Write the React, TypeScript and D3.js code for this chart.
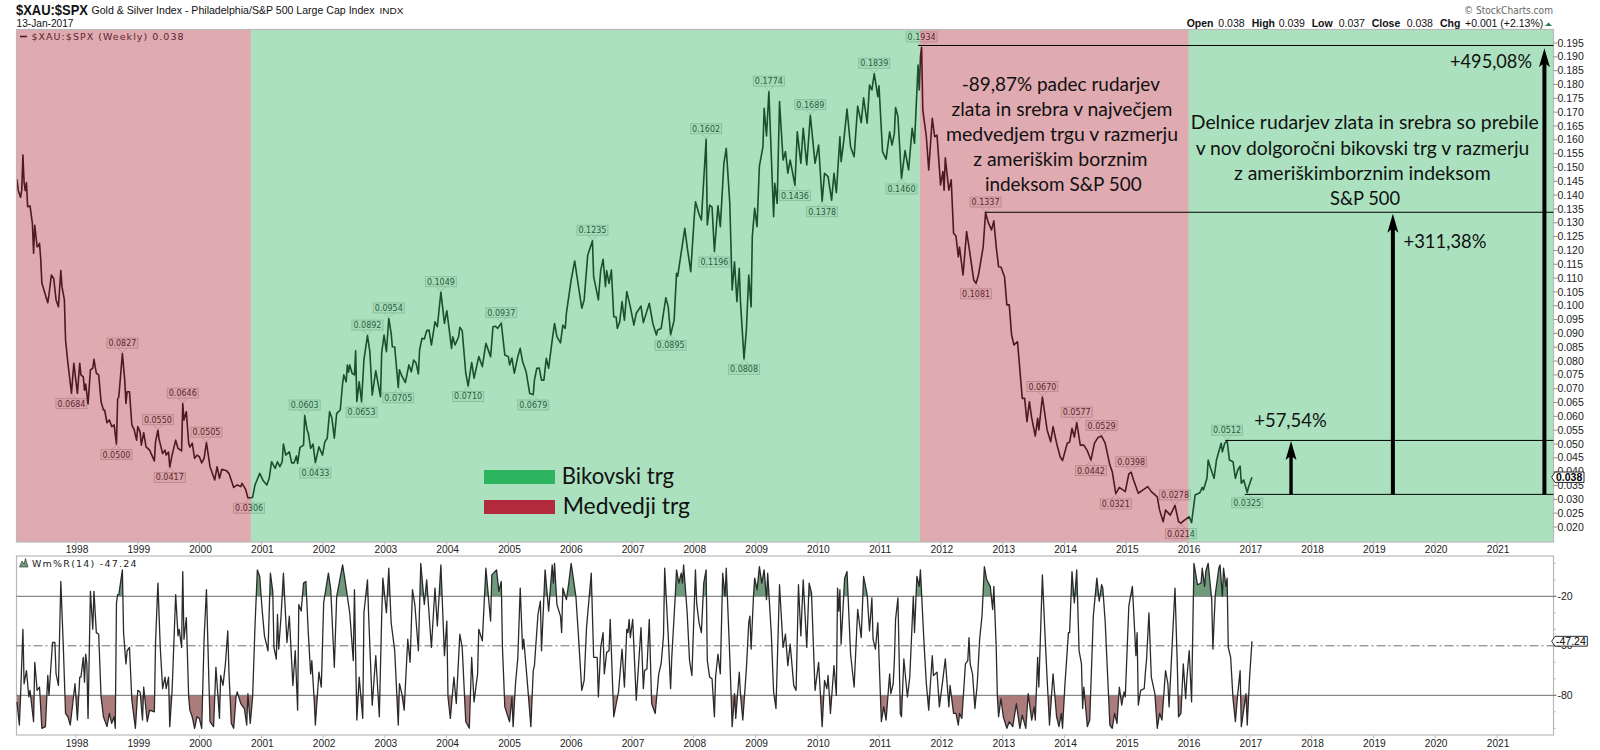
import React from "react";
import * as d3 from "d3";

type P = [number, number];

// Ratio $XAU:$SPX, [weeks since first bar, value]
const bearEra1: P[] = [[0,.1457],[1,.1418],[3,.1392],[4,.1418],[5,.1545],[6,.1444],[7,.1416],[8,.1445],[9,.1358],[11,.1361],[13,.1298],[14,.1190],[15,.1291],[17,.1213],[18,.1216],[19,.1226],[20,.1171],[21,.1082],[24,.1039],[26,.1011],[27,.1039],[29,.1111],[31,.1099],[33,.1021],[35,.0996],[37,.1127],[38,.1069],[40,.1021],[41,.0876],[43,.0792],[46,.0684],[48,.0792],[51,.0683],[53,.0792],[54,.0750],[56,.0743],[57,.0695],[58,.0717],[60,.0645],[62,.0768],[64,.0774],[65,.0806],[67,.0756],[69,.0750],[71,.0653],[73,.0623],[74,.0623],[76,.0577],[78,.0587],[80,.0563],[82,.0569],[84,.0500],[85,.0662],[86,.0671],[89,.0827],[91,.0731],[92,.0647],[93,.0689],[95,.0689],[97,.0569],[99,.0551],[101,.0514],[102,.0563],[104,.0543],[105,.0496],[107,.0541],[109,.0490],[112,.0478],[116,.0439],[117,.0508],[119,.0550],[120,.0517],[123,.0466],[125,.0478],[126,.0460],[128,.0471],[129,.0417],[131,.0460],[134,.0514],[136,.0484],[139,.0475],[140,.0646],[141,.0587],[143,.0617],[145,.0503],[146,.0489],[148,.0503],[150,.0448],[152,.0460],[154,.0454],[156,.0432],[158,.0448],[160,.0505],[163,.0418],[167,.0370],[169,.0418],[171,.0376],[173,.0409],[177,.0403],[179,.0394],[183,.0343],[186,.0352],[189,.0346],[190,.0358],[193,.0337],[195,.0306],[197,.0306]];
const bullEra1: P[] = [[199,.0307],[201,.0352],[205,.0394],[208,.0367],[211,.0352],[213,.0376],[215,.0436],[218,.0412],[220,.0436],[222,.0418],[224,.0436],[225,.0500],[227,.0460],[230,.0472],[232,.0432],[234,.0432],[236,.0457],[237,.0430],[239,.0488],[242,.0496],[243,.0603],[245,.0551],[246,.0539],[248,.0484],[250,.0500],[252,.0433],[255,.0490],[258,.0460],[260,.0508],[262,.0521],[264,.0617],[266,.0593],[268,.0521],[270,.0611],[273,.0623],[275,.0719],[276,.0750],[278,.0725],[279,.0786],[280,.0760],[281,.0786],[283,.0756],[285,.0750],[286,.0837],[287,.0653],[289,.0725],[291,.0653],[293,.0804],[296,.0892],[298,.0834],[300,.0677],[303,.0765],[307,.0671],[308,.0830],[310,.0894],[312,.0834],[314,.0954],[316,.0900],[317,.0852],[319,.0851],[322,.0705],[323,.0768],[325,.0746],[328,.0722],[331,.0786],[333,.0761],[335,.0804],[337,.0793],[339,.0753],[340,.0840],[342,.0882],[344,.0880],[346,.0910],[348,.0912],[350,.0858],[353,.0942],[355,.0924],[358,.1049],[361,.0936],[363,.0982],[367,.0846],[368,.0888],[370,.0858],[373,.0888],[374,.0922],[376,.0910],[379,.0756],[381,.0710],[384,.0795],[386,.0738],[390,.0816],[393,.0780],[396,.0864],[400,.0816],[402,.0924],[404,.0926],[406,.0918],[409,.0937],[412,.0822],[415,.0816],[416,.0786],[418,.0811],[420,.0756],[423,.0816],[425,.0846],[427,.0798],[430,.0761],[433,.0683],[436,.0679],[437,.0731],[439,.0774],[441,.0775],[443,.0731],[445,.0731],[447,.0810],[449,.0774],[452,.0876],[454,.0936],[456,.0888],[459,.0866],[461,.0930],[463,.0918],[464,.0973],[468,.1093],[471,.1162],[474,.1075],[477,.0991],[479,.1021],[482,.1183],[486,.1235],[487,.1105],[491,.1021],[493,.1129],[495,.1168],[497,.1069],[498,.1127],[500,.1081],[502,.1129],[504,.0960],[506,.0959],[507,.0918],[509,.0941],[511,.1015],[513,.0948],[515,.1051],[518,.0996],[521,.0930],[523,.0973],[527,.0999],[529,.0939],[534,.1009],[537,.0936],[540,.0894],[541,.0912],[544,.0918],[548,.1029],[550,.0996],[552,.0895],[555,.0948],[557,.1117],[558,.1107],[564,.1280],[566,.1213],[569,.1123],[572,.1322],[573,.1376],[576,.1332],[578,.1310],[582,.1602],[583,.1292],[585,.1364],[587,.1357],[589,.1196],[592,.1361],[594,.1286],[597,.1515],[599,.1569],[602,.1370],[604,.1057],[606,.1159],[608,.1015],[610,.1135],[611,.1015],[614,.0808],[616,.0912],[618,.1111],[620,.0996],[621,.1250],[623,.1352],[625,.1286],[627,.1505],[630,.1575],[631,.1714],[633,.1614],[635,.1774],[639,.1322],[640,.1443],[642,.1370],[644,.1738],[647,.1527],[649,.1557],[651,.1479],[653,.1527],[657,.1436],[659,.1629],[662,.1515],[664,.1642],[667,.1509],[670,.1689],[674,.1515],[677,.1581],[680,.1378],[682,.1479],[685,.1467],[688,.1382],[690,.1479],[692,.1409],[695,.1611],[696,.1521],[698,.1587],[701,.1711],[704,.1575],[707,.1539],[710,.1722],[713,.1662],[715,.1752],[718,.1660],[720,.1798],[722,.1780],[724,.1839],[727,.1756],[728,.1795],[731,.1557],[734,.1530],[737,.1629],[739,.1581],[741,.1623],[742,.1717],[744,.1684],[747,.1460],[750,.1561],[753,.1491],[756,.1642],[758,.1587],[761,.1870],[762,.1780],[763,.1900]];
const bearEra2: P[] = [[764,.1934],[765,.1708],[768,.1611],[770,.1491],[773,.1678],[775,.1611],[777,.1617],[780,.1437],[782,.1485],[783,.1418],[784,.1535],[787,.1418],[789,.1455],[791,.1262],[793,.1252],[795,.1177],[796,.1212],[799,.1111],[802,.1268],[804,.1213],[808,.1093],[810,.1081],[812,.1111],[816,.1213],[818,.1337],[820,.1304],[823,.1274],[825,.1307],[827,.1213],[829,.1141],[831,.1140],[834,.1105],[836,.1003],[838,.1003],[840,.0894],[842,.0858],[845,.0870],[849,.0665],[851,.0665],[853,.0581],[855,.0653],[857,.0594],[860,.0529],[862,.0593],[863,.0551],[866,.0670],[870,.0551],[873,.0508],[875,.0563],[878,.0503],[881,.0454],[883,.0440],[887,.0503],[889,.0507],[891,.0557],[893,.0525],[895,.0577],[898,.0496],[901,.0496],[904,.0475],[907,.0442],[910,.0503],[913,.0524],[916,.0529],[919,.0503],[923,.0424],[925,.0400],[928,.0321],[931,.0343],[936,.0328],[939,.0392],[941,.0398],[943,.0370],[947,.0322],[951,.0334],[955,.0346],[958,.0328],[963,.0309],[965,.0261],[968,.0219],[970,.0261],[974,.0243],[978,.0278],[981,.0219],[983,.0214],[986,.0225],[990,.0237]];
const bullEra2: P[] = [[992,.0216],[993,.0249],[995,.0316],[999,.0324],[1001,.0343],[1002,.0334],[1005,.0376],[1006,.0442],[1008,.0413],[1011,.0376],[1013,.0442],[1017,.0503],[1018,.0472],[1020,.0503],[1022,.0512],[1024,.0442],[1027,.0436],[1029,.0376],[1031,.0406],[1033,.0420],[1034,.0358],[1036,.0370],[1039,.0325],[1040,.0343],[1043,.0380]];

// Williams %R, [week, value]
const wmrPart1: P[] = [[0,-84],[2,-98],[3,-81],[5,-40],[6,-73],[8,-65],[10,-81],[11,-77],[14,-96],[15,-60],[17,-77],[19,-75],[21,-100],[24,-99],[26,-68],[27,-80],[30,-48],[32,-48],[33,-67],[35,-74],[37,-11],[39,-48],[41,-91],[43,-93],[45,-98],[49,-73],[51,-95],[53,-69],[54,-69],[56,-57],[57,-72],[58,-55],[59,-61],[60,-94],[62,-17],[64,-40],[65,-17],[67,-42],[69,-43],[71,-81],[73,-93],[76,-99],[78,-91],[80,-97],[82,-93],[83,-100],[84,-24],[85,-19],[86,-19],[89,-4],[90,-42],[92,-61],[93,-53],[95,-51],[97,-83],[100,-100],[102,-77],[104,-78],[106,-95],[107,-75],[110,-96],[112,-89],[116,-90],[117,-48],[119,-12],[121,-51],[123,-76],[125,-69],[126,-76],[128,-69],[129,-99],[131,-77],[134,-19],[136,-44],[137,-40],[139,-51],[140,-5],[141,-46],[143,-33],[145,-81],[146,-89],[148,-93],[150,-100],[152,-93],[154,-94],[156,-100],[158,-46],[160,-16],[163,-96],[166,-99],[168,-63],[171,-94],[172,-68],[174,-74],[176,-61],[178,-41],[179,-66],[181,-97],[183,-100],[185,-81],[186,-78],[189,-85],[192,-88],[194,-98],[195,-79],[197,-97],[199,-81],[201,-38],[203,-4],[205,-8],[207,-28],[209,-44],[212,-53],[214,-6],[216,-17],[217,-51],[219,-58],[220,-31],[221,-52],[223,-32],[225,-6],[228,-48],[230,-32],[233,-74],[235,-53],[237,-89],[238,-25],[240,-29],[242,-12],[244,-11],[246,-42],[248,-67],[249,-59],[251,-83],[252,-98],[255,-66],[257,-75],[259,-24],[263,-6],[265,-16],[268,-63],[270,-20],[275,-1],[277,-10],[281,-30],[284,-59],[285,-16],[287,-95],[289,-69],[292,-94],[293,-30],[296,-10],[297,-32],[300,-86],[303,-56],[306,-93],[308,-32],[309,-9],[312,-30],[314,-3],[316,-36],[319,-53],[322,-98],[323,-73],[325,-79],[327,-89],[330,-46],[332,-60],[334,-16],[336,-25],[339,-53],[341,0],[344,-25],[346,-10],[350,-51],[353,-15],[355,-38],[358,-1],[361,-56],[363,-35],[364,-81],[366,-94],[369,-69],[371,-85],[374,-43],[376,-51],[379,-96],[382,-100],[384,-57],[386,-84],[389,-67],[390,-40],[393,-47],[396,-3]];
const wmrPart2: P[] = [[400,-35],[401,-7],[405,-4],[407,-17],[409,-11],[410,-51],[412,-87],[416,-96],[418,-81],[419,-99],[421,-73],[423,-57],[425,-15],[427,-52],[428,-46],[431,-72],[434,-99],[436,-65],[437,-62],[440,-31],[442,-23],[443,-53],[446,-4],[449,-29],[452,-1],[453,-12],[454,0],[456,-25],[459,-32],[460,-42],[461,-15],[464,-22],[466,-12],[468,0],[472,-20],[474,-42],[477,-77],[479,-71],[481,-39],[485,-6],[487,-57],[490,-57],[491,-81],[493,-51],[495,-42],[496,-67],[498,-54],[500,-53],[501,-34],[504,-93],[508,-78],[511,-52],[513,-75],[515,-40],[516,-42],[517,-34],[518,-45],[520,-34],[523,-83],[525,-61],[527,-39],[529,-76],[530,-65],[532,-64],[534,-34],[536,-85],[539,-91],[542,-67],[544,-61],[546,-44],[547,-3],[550,-44],[552,-76],[553,-57],[556,-19],[557,-4],[559,-12],[561,-6],[562,-12],[563,-1],[566,-30],[568,-59],[570,-68],[573,-4],[574,-24],[576,-36],[578,-42],[580,-12],[582,-4],[583,-59],[585,-69],[587,-70],[589,-93],[590,-69],[592,-55],[594,-67],[596,-6],[598,-20],[599,-3],[602,-57],[604,-99],[606,-79],[607,-94],[610,-66],[611,-79],[613,-95],[616,-64],[618,-36],[619,-32],[620,-52],[622,-20],[623,-9],[625,-16],[627,-2],[629,-12],[631,-4],[633,-22],[634,-6],[637,-42],[639,-78],[641,-88],[644,-13],[647,-51],[649,-43],[651,-62],[653,-49],[656,-74],[658,-77],[660,-13],[662,-44],[664,-10],[667,-51],[669,-12],[671,-18],[674,-77],[677,-60],[680,-99],[682,-71],[684,-76],[685,-68],[687,-91],[690,-62],[692,-80],[693,-15],[694,-29],[695,-16],[696,-49],[699,-9],[701,-5],[704,-55],[707,-75],[710,-28],[713,-45],[715,-8],[718,-19],[720,-41],[722,-21],[723,-46],[725,-52],[727,-36]];
const wmrPart3: P[] = [[730,-96],[732,-87],[734,-95],[737,-67],[738,-79],[740,-73],[741,-59],[742,-34],[744,-21],[746,-91],[747,-93],[749,-58],[752,-81],[754,-69],[757,-20],[758,-42],[760,-8],[762,-14],[763,-4],[766,-48],[768,-73],[770,-89],[773,-56],[774,-68],[777,-66],[779,-87],[782,-70],[784,-58],[787,-87],[788,-74],[791,-91],[793,-91],[795,-98],[796,-91],[798,-94],[801,-61],[803,-59],[804,-45],[805,-61],[807,-67],[809,-88],[811,-73],[813,-46],[815,-32],[817,-2],[819,-10],[822,-14],[824,-28],[825,-14],[827,-51],[828,-81],[829,-93],[831,-82],[833,-93],[836,-100],[838,-96],[841,-99],[844,-85],[847,-100],[849,-92],[852,-100],[854,-79],[857,-95],[859,-87],[860,-95],[862,-57],[863,-75],[866,-7],[868,-40],[870,-70],[872,-98],[875,-67],[878,-93],[880,-99],[882,-91],[883,-100],[885,-74],[888,-42],[889,-42],[891,-5],[893,-24],[895,-4],[897,-53],[899,-61],[900,-88],[901,-75],[904,-99],[906,-95],[909,-32],[912,-9],[914,-23],[916,-13],[917,-15],[919,-35],[923,-98],[925,-100],[927,-91],[929,-97],[931,-75],[933,-86],[935,-78],[936,-81],[939,-26],[942,-14],[945,-56],[946,-42],[947,-86],[949,-77],[952,-76],[953,-66],[954,-58],[956,-30],[958,-69],[961,-79],[963,-100],[965,-91],[967,-95],[970,-65],[972,-73],[973,-87],[978,-15],[980,-63],[981,-93],[983,-91],[985,-61],[987,-82],[988,-70],[990,-53],[992,-84],[994,0],[997,-13],[1000,-12],[1001,-3],[1003,-14],[1004,-5],[1006,0],[1009,-22],[1010,-52],[1012,-19],[1015,-3],[1016,-1],[1018,-20],[1019,-3],[1021,-14],[1022,-9],[1023,-51],[1025,-57],[1027,-82],[1029,-96],[1031,-79],[1033,-65],[1034,-99],[1036,-89],[1038,-79],[1039,-98],[1041,-69],[1043,-47.24]];

// Peak and trough call-outs: [week, value, 1 above / -1 below]
const callouts: [number, number, number][] = [[46,.0684,-1],[89,.0827,1],[84,.05,-1],[119,.055,1],[129,.0417,-1],[140,.0646,1],[160,.0505,1],[196,.0306,-1],[243,.0603,1],[252,.0433,-1],[296,.0892,1],[291,.0653,-1],[314,.0954,1],[322,.0705,-1],[358,.1049,1],[381,.071,-1],[409,.0937,1],[436,.0679,-1],[486,.1235,1],[552,.0895,-1],[582,.1602,1],[589,.1196,-1],[614,.0808,-1],[635,.1774,1],[657,.1436,-1],[670,.1689,1],[680,.1378,-1],[724,.1839,1],[747,.146,-1],[764,.1934,1],[810,.1081,-1],[818,.1337,1],[866,.067,1],[895,.0577,1],[907,.0442,-1],[916,.0529,1],[941,.0398,1],[928,.0321,-1],[978,.0278,1],[983,.0214,-1],[1022,.0512,1],[1039,.0325,-1]];

const yearLabels = d3.range(1998, 2022);
const priceTicks = d3.range(36).map((i) => 0.02 + i * 0.005);
const wmrLevels = [-20, -50, -80];
const wmrMinor = d3.range(0, -101, -10);
const regionEdges = [0, 197.5, 762.6, 989.6, 1298];
const regionKinds = ["bear", "bull", "bear", "bull"];
const hLevels: [number, number][] = [[.1941, 761], [.1338, 817.5], [.0513, 1020.5], [.0318, 1037]];
const arrows: [number, number, number][] = [[1076, .0511, 3.4], [1162, .1333, 4], [1290, .1931, 4]];
const statNames = ["Open", "High", "Low", "Close", "Chg"];
const statValues = ["0.038", "0.039", "0.037", "0.038", "+0.001 (+2.13%)"];
const textRed = ["-89,87% padec rudarjev", "zlata in srebra v največjem", "medvedjem trgu v razmerju", "z ameriškim borznim", "indeksom S&P 500"];
const textGreen = ["Delnice rudarjev zlata in srebra so prebile", "v nov dolgoročni bikovski trg v razmerju", "z ameriškimborznim indeksom", "S&P 500"];

const BULL = "#2cb45f";
const BEAR = "#b22a3c";
const L = 16.5, R = 1553.5, T1 = 29.5, B1 = 542, T2 = 556, B2 = 735;
const SANS = "'Liberation Sans', Arial, sans-serif";
const DEJA = "'DejaVu Sans', sans-serif";
const NOTE = "Lato, sans-serif";

const firstBar = +new Date(1997, 0, 17);
const toDate = (w: number) => new Date(firstBar + w * 7 * 864e5);
const x = d3.scaleTime().domain([toDate(0), toDate(1298)]).range([17, 1553.9]);
const xw = (w: number) => x(toDate(w));
const y = d3.scaleLinear().domain([0.02, 0.195]).range([527, 43]);
const yr = d3.scaleLinear().domain([0, -100]).range([563.3, 728.3]);

const ratio = [...bearEra1, ...bullEra1, ...bearEra2, ...bullEra2];
const wmr = [...wmrPart1, ...wmrPart2, ...wmrPart3];
const ratioPath = d3.line<P>().x((d) => xw(d[0])).y((d) => y(d[1]))(ratio) as string;
const wmrPath = d3.line<P>().x((d) => xw(d[0])).y((d) => yr(d[1]))(wmr) as string;
const wmrArea = (lvl: number) => d3.area<P>().x((d) => xw(d[0])).y0(yr(lvl)).y1((d) => yr(d[1]))(wmr) as string;

const statPos = [[1186.7, 1218.3], [1251.7, 1278.7], [1311.7, 1338.7], [1371.7, 1406.7], [1440, 1465]];

function Arrow({ w, v, sw }: { w: number; v: number; sw: number }) {
  const cx = xw(w), tip = y(v), base = y(0.0318);
  const hw = 5.5, hh = 19;
  const d = `M${cx},${tip}L${cx + hw},${tip + hh}L${cx + sw / 2},${tip + hh - 3}L${cx + sw / 2},${base}L${cx - sw / 2},${base}L${cx - sw / 2},${tip + hh - 3}L${cx - hw},${tip + hh}Z`;
  return <path d={d} fill="#000" />;
}

export default function App() {
  return (
    <svg width={1600} height={750} viewBox="0 0 1600 750" style={{ position: "absolute", left: 0, top: 0, display: "block", background: "#fff" }}>
      <defs>
        <clipPath id="above"><rect x={L} y={T2} width={R - L} height={yr(-20) - T2} /></clipPath>
        <clipPath id="below"><rect x={L} y={yr(-80)} width={R - L} height={B2 - yr(-80)} /></clipPath>
      </defs>
      <rect width={1600} height={750} fill="#fff" />

      {/* Header */}
      <text x={16} y={15} fontFamily={SANS} fontWeight="bold" fontSize={14.5} fill="#111" textLength={72} lengthAdjust="spacingAndGlyphs">$XAU:$SPX</text>
      <text x={91.5} y={14} fontFamily={SANS} fontSize={10.8} fill="#111" textLength={283} lengthAdjust="spacingAndGlyphs">Gold &amp; Silver Index - Philadelphia/S&amp;P 500 Large Cap Index</text>
      <text x={379.5} y={14} fontFamily={SANS} fontSize={9} fill="#111" textLength={24} lengthAdjust="spacingAndGlyphs">INDX</text>
      <text x={16.5} y={27} fontFamily={SANS} fontSize={10} fill="#111" textLength={57} lengthAdjust="spacingAndGlyphs">13-Jan-2017</text>
      <text x={1464} y={14} fontFamily={DEJA} fontSize={10} fill="#666" textLength={89} lengthAdjust="spacingAndGlyphs">© StockCharts.com</text>
      {statNames.map((n, i) => (
        <g key={n} fontFamily={SANS} fontSize={10.5} fill="#111">
          <text x={statPos[i][0]} y={27} fontWeight="bold">{n}</text>
          <text x={statPos[i][1]} y={27}>{statValues[i]}</text>
        </g>
      ))}
      <path d="M1545,26L1548.5,22.5L1552,26Z" fill="#2e7d4f" />

      {/* Upper pane: chart layer */}
      <rect x={L} y={T1} width={R - L} height={B1 - T1} fill="#fff" />
      <g fontFamily={DEJA} fontSize={8} fill="#222">
        {callouts.map(([w, v, dir]) => {
          const cx = xw(w), py = y(v) - dir * 1, cy = py - dir * 9.5;
          const edge = cy + dir * 5;
          return (
            <g key={w + "-" + v}>
              <path d={`M${cx - 5},${edge}L${cx},${py}L${cx + 5},${edge}`} fill="none" stroke="#c6c6c6" strokeWidth={0.8} />
              <rect x={cx - 15.5} y={cy - 5} width={31} height={10} fill="#f5f5f5" stroke="#c4c4c4" strokeWidth={0.9} />
              <text x={cx} y={cy + 3} textAnchor="middle">{v.toFixed(4)}</text>
            </g>
          );
        })}
      </g>
      <path d={ratioPath} fill="none" stroke="#0c1010" strokeWidth={1.6} strokeLinejoin="round" />
      <path d="M20,36.5H27" stroke="#0c1010" strokeWidth={1.6} />
      <text x={31.5} y={40} fontFamily={DEJA} fontSize={9.5} fill="#222" textLength={152} lengthAdjust="spacing">$XAU:$SPX (Weekly) 0.038</text>

      {/* Bull and bear overlays */}
      {regionKinds.map((k, i) => {
        const x0 = Math.max(L, xw(regionEdges[i]));
        const x1 = Math.min(R, xw(regionEdges[i + 1]));
        return <rect key={i} x={x0} y={T1} width={x1 - x0} height={B1 - T1} fill={k === "bull" ? BULL : BEAR} opacity={0.4} />;
      })}
      <rect x={L} y={T1} width={R - L} height={B1 - T1} fill="none" stroke="#b9b9b9" strokeWidth={1.2} />

      {/* Price axis */}
      <g fontFamily={SANS} fontSize={10.5} fill="#222">
        {priceTicks.map((t) => (
          <g key={t}>
            <line x1={R} x2={R + 4} y1={y(t)} y2={y(t)} stroke="#777" strokeWidth={0.8} />
            <text x={R + 4} y={y(t) + 3.6}>{t.toFixed(3)}</text>
          </g>
        ))}
      </g>
      <path d={`M1551.7,${y(0.038)}L1555,${y(0.038) - 5.2}H1584V${y(0.038) + 5.2}H1555Z`} fill="#fff" stroke="#111" strokeWidth={0.9} />
      <text x={1556} y={y(0.038) + 3.8} fontFamily={SANS} fontSize={10.5} fontWeight="bold" fill="#000">0.038</text>

      {/* Year labels */}
      <g fontFamily={SANS} fontSize={10.2} fill="#222" textAnchor="middle">
        {yearLabels.map((yrn) => {
          const px = x(new Date(yrn, 0, 1));
          return (
            <g key={yrn}>
              <line x1={px} x2={px} y1={B1} y2={B1 + 3} stroke="#aaa" strokeWidth={0.8} />
              <line x1={px} x2={px} y1={B2} y2={B2 + 3} stroke="#aaa" strokeWidth={0.8} />
              <text x={px + 1} y={553}>{yrn}</text>
              <text x={px + 1} y={747}>{yrn}</text>
            </g>
          );
        })}
      </g>

      {/* Lower pane */}
      <rect x={L} y={T2} width={R - L} height={B2 - T2} fill="#fff" stroke="#b9b9b9" strokeWidth={1.2} />
      <path d={wmrArea(-20)} fill="#6f9a7b" clipPath="url(#above)" />
      <path d={wmrArea(-80)} fill="#ac7b7b" clipPath="url(#below)" />
      {wmrMinor.map((l) => (
        <line key={l} x1={R} x2={R + 2.5} y1={yr(l)} y2={yr(l)} stroke="#aaa" strokeWidth={0.7} />
      ))}
      {wmrLevels.map((l) => (
        <line key={l} x1={L} x2={R + 3} y1={yr(l)} y2={yr(l)} stroke="#6e6e6e" strokeWidth={1} strokeDasharray={l === -50 ? "9 3 2 3" : undefined} />
      ))}
      <path d={wmrPath} fill="none" stroke="#2a2a2a" strokeWidth={1.3} strokeLinejoin="round" />
      <path d="M19.5,567L22,561L24,564L25.5,558.5L28,567Z" fill="#6f9a7b" stroke="#2a2a2a" strokeWidth={0.6} />
      <text x={32} y={566.7} fontFamily={DEJA} fontSize={9.5} fill="#222" textLength={104.5} lengthAdjust="spacing">Wm%R(14) -47.24</text>
      <g fontFamily={SANS} fontSize={10.5} fill="#222">
        {wmrLevels.map((l) => (
          <text key={l} x={R + 4} y={yr(l) + 3.6}>{l}</text>
        ))}
      </g>
      <path d={`M1551.7,${yr(-47.24)}L1555,${yr(-47.24) - 4.9}H1587.3V${yr(-47.24) + 4.9}H1555Z`} fill="#fff" stroke="#111" strokeWidth={0.9} />
      <text x={1556} y={yr(-47.24) + 3.7} fontFamily={SANS} fontSize={10.5} fill="#000">-47.24</text>

      {/* Hand-drawn annotations */}
      {hLevels.map(([v, w]) => (
        <line key={v} x1={xw(w)} x2={R} y1={y(v)} y2={y(v)} stroke="#000" strokeWidth={1} />
      ))}
      {arrows.map(([w, v, sw]) => <Arrow key={w} w={w} v={v} sw={sw} />)}

      <g fontFamily={NOTE} fill="#111" textAnchor="middle" fontSize={19.5}>
        {textRed.map((t, i) => (
          <text key={t} x={[1060.8, 1062, 1062, 1060.3, 1063.3][i]} y={[91, 116, 140.7, 166, 190.7][i]} textLength={[198.3, 221, 232, 174.3, 156.7][i]} lengthAdjust="spacingAndGlyphs">{t}</text>
        ))}
        {textGreen.map((t, i) => (
          <text key={t} x={[1364.8, 1362.5, 1362.3, 1365][i]} y={[129.3, 155, 180, 205][i]} textLength={[348, 333.7, 256.7, 70][i]} lengthAdjust="spacingAndGlyphs">{t}</text>
        ))}
        <text x={1491} y={67.7} textLength={82} lengthAdjust="spacingAndGlyphs">+495,08%</text>
        <text x={1445} y={247.5} textLength={83} lengthAdjust="spacingAndGlyphs">+311,38%</text>
        <text x={1290.5} y={427} textLength={72.4} lengthAdjust="spacingAndGlyphs">+57,54%</text>
      </g>

      {/* Legend */}
      <rect x={484} y={470} width={71} height={14} fill={BULL} />
      <rect x={484} y={500} width={71} height={14} fill={BEAR} />
      <g fontFamily={NOTE} fontSize={23} fill="#111">
        <text x={561.7} y={484} textLength={112.3} lengthAdjust="spacingAndGlyphs">Bikovski trg</text>
        <text x={562.7} y={514} textLength={127.3} lengthAdjust="spacingAndGlyphs">Medvedji trg</text>
      </g>
    </svg>
  );
}
